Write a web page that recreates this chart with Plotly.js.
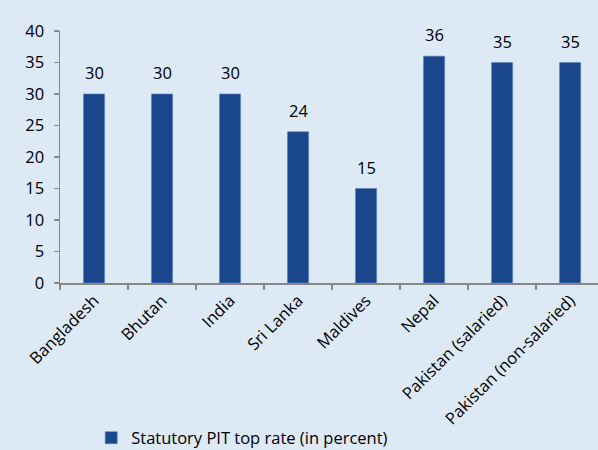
<!DOCTYPE html>
<html><head><meta charset="utf-8">
<script src="https://cdn.plot.ly/plotly-3.0.1.min.js"></script>
<style>html,body{margin:0;padding:0;background:#dde9f5;}</style>
</head><body>
<div id="chart" style="width:598px;height:450px;"></div>
<script>
const categories = ["Bangladesh","Bhutan","India","Sri Lanka","Maldives","Nepal","Pakistan (salaried)","Pakistan (non-salaried)"];
const values = [30,30,30,24,15,36,35,35];
const seriesName = "Statutory PIT top rate (in percent)";

const font = {family: "Open Sans, sans-serif", size: 16.5, color: "#000"};
const trace = {
  type: "bar", x: categories, y: values, name: seriesName,
  marker: {color: "#1a468c", line: {color: "#5a7fb5", width: 0.6}},
  width: 0.31, showlegend: true
};
const annotations = categories.map((c, i) => ({
  x: c, y: values[i], text: String(values[i]), showarrow: false,
  yanchor: "bottom", yshift: 8, font: font
}));
const layout = {
  width: 598, height: 450,
  margin: {l: 60, r: 0, t: 31, b: 167, autoexpand: false},
  paper_bgcolor: "#dde9f5", plot_bgcolor: "#dde9f5",
  font: font,
  showlegend: true,
  legend: {orientation: "h", x: 0.058, xanchor: "left", y: -0.615, yanchor: "middle",
           font: font, bgcolor: "rgba(0,0,0,0)", itemwidth: 30},
  xaxis: {type: "category", range: [-0.5, 7.41], showline: true, linecolor: "#888", linewidth: 1.5,
          ticks: "outside", tickson: "boundaries", ticklen: 5, tickcolor: "#888", tickwidth: 1.5,
          tickangle: -45, showgrid: false, zeroline: false, tickfont: font, fixedrange: true, automargin: false},
  yaxis: {range: [0, 40], dtick: 5, showline: true, linecolor: "#888", linewidth: 1.5,
          ticks: "outside", ticklen: 5, tickcolor: "#888", tickwidth: 1.5, ticklabelstandoff: 6,
          showgrid: false, zeroline: false, tickfont: font, fixedrange: true, automargin: false},
  annotations: annotations
};
Plotly.newPlot("chart", [trace], layout, {displayModeBar: false, staticPlot: true});
</script>
</body></html>
